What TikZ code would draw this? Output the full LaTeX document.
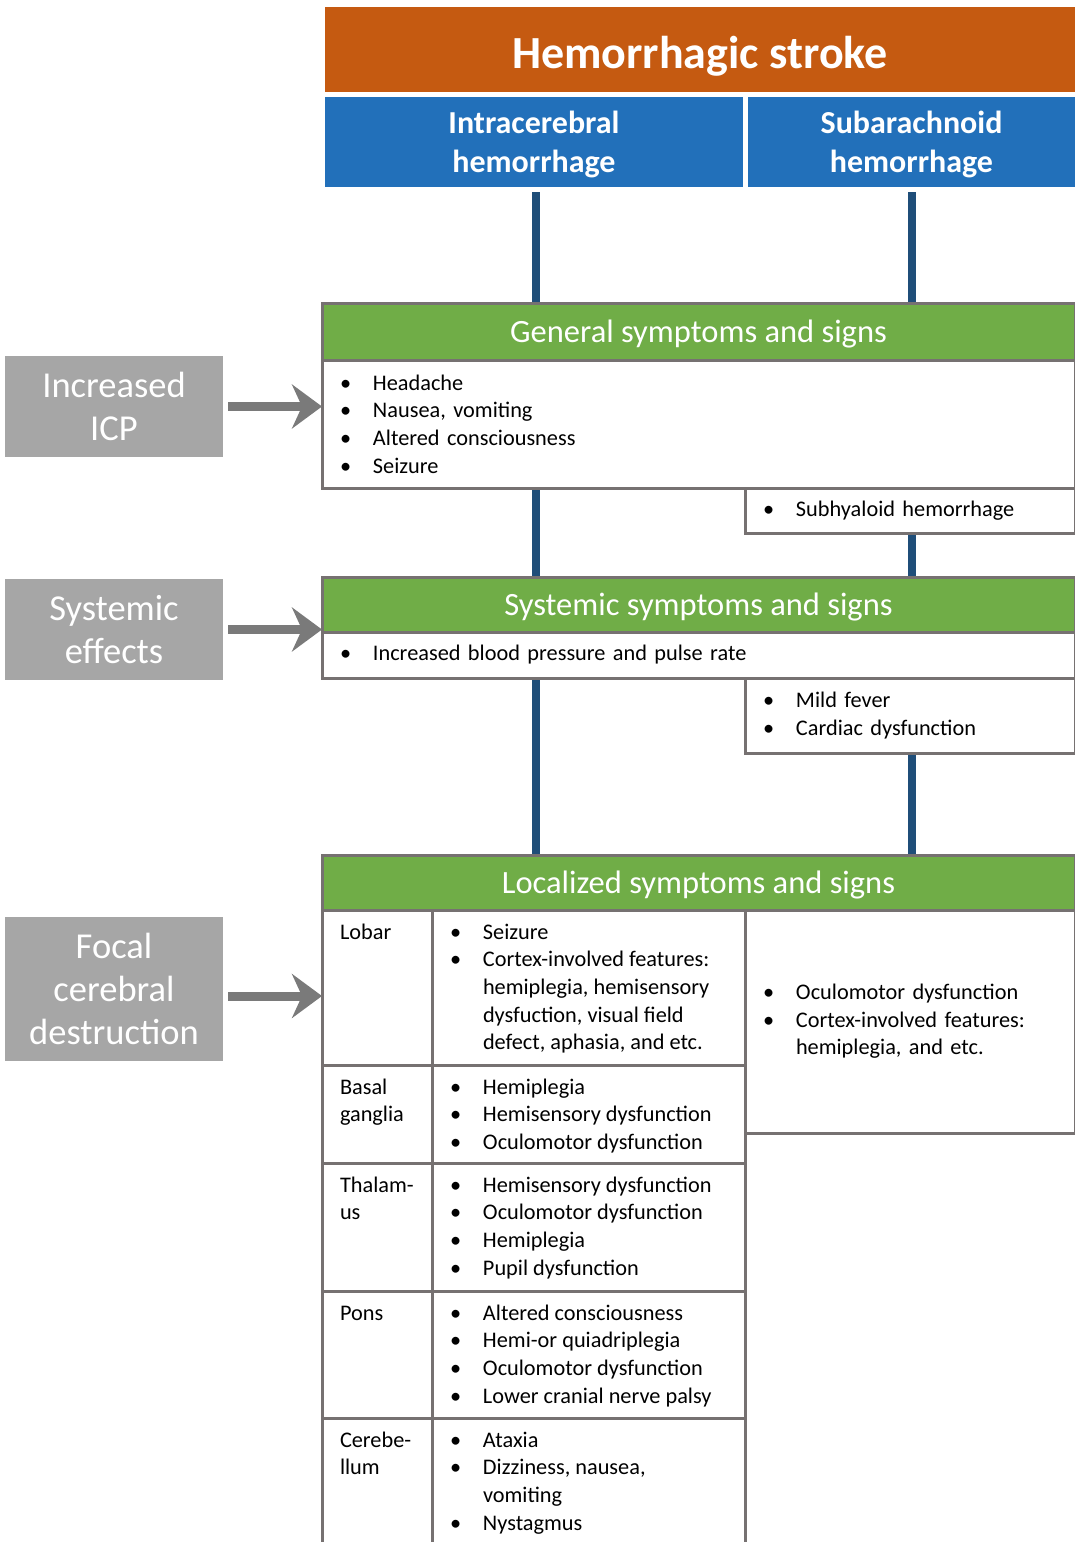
\documentclass[tikz,border=0pt]{standalone}
\usepackage{fontspec}
\setmainfont{Carlito}
\usetikzlibrary{positioning,backgrounds,arrows.meta}

\definecolor{strokeorange}{HTML}{C55A11}
\definecolor{typeblue}{HTML}{2270BA}
\definecolor{stemblue}{HTML}{1F4E79}
\definecolor{headgreen}{HTML}{70AD47}
\definecolor{sidegray}{HTML}{A6A6A6}
\definecolor{edgegray}{HTML}{767171}
\definecolor{arrowgray}{HTML}{7A7A7A}

\newcommand{\bodyfont}{\fontsize{22.3}{27.6}\selectfont}
\newcommand{\bi}[1]{\makebox[33pt][l]{\textbullet}#1}
\newcommand{\ci}{\hspace*{33pt}}

\tikzset{
	every node/.style={outer sep=0pt},
	orangebox/.style={fill=strokeorange, text=white, font=\bfseries\fontsize{46}{52}\selectfont, minimum height=85pt, inner sep=0pt, text height=38pt, text depth=0pt},
	bluebox/.style={fill=typeblue, text=white, align=center, font=\bfseries\fontsize{32}{39}\selectfont, minimum height=90pt, inner sep=0pt, text depth=0pt},
	greenbar/.style={draw=edgegray, line width=3pt, fill=headgreen, text=white, font=\fontsize{32.5}{38}\selectfont, minimum width=753pt, inner sep=0pt, text depth=0pt},
	listbox/.style={draw=edgegray, line width=3pt, fill=white, align=left, font=\bodyfont, inner xsep=18pt, inner ysep=0pt},
	cellbox/.style={draw=edgegray, line width=3pt, fill=white, inner sep=0pt},
	celltext/.style={align=left, font=\bodyfont, inner sep=0pt},
	sidebox/.style={fill=sidegray, text=white, align=center, font=\fontsize{36.5}{43}\selectfont, minimum width=218pt, inner sep=0pt},
	feeds/.style={draw=arrowgray, line width=9pt, -{Stealth[length=30pt,width=44pt,inset=10pt]}},
	stem/.style={draw=stemblue, line width=8pt}
}

\begin{document}
\frenchspacing
\begin{tikzpicture}[x=1pt,y=-1pt]
	\useasboundingbox (0,0) rectangle (1075,1542);

	% stroke types
	\node[orangebox, minimum width=750pt] (stroke) at (700,49.5) {Hemorrhagic stroke};
	\node[bluebox, minimum width=418pt] (ich) at (534,142) {Intracerebral\\hemorrhage};
	\node[bluebox, minimum width=327pt] (sah) at (911.5,142) {Subarachnoid\\hemorrhage};

	% general
	\node[greenbar, minimum height=57pt] (ghead) at (698.5,331.5) {General symptoms and signs};
	\node[listbox, below=0pt of ghead, text width=717pt, minimum height=128pt] (gbody)
		{\bi{Headache}\\\bi{Nausea, vomiting}\\\bi{Altered consciousness}\\\bi{Seizure}};
	\node[listbox, below left=0pt and 0pt of gbody.south east, text width=294pt, minimum height=45pt] (gsah)
		{\bi{Subhyaloid hemorrhage}};

	% systemic
	\node[greenbar, minimum height=55pt] (shead) at (698.5,604.5) {Systemic symptoms and signs};
	\node[listbox, below=0pt of shead, text width=717pt, minimum height=46pt] (sbody)
		{\bi{Increased blood pressure and pulse rate}};
	\node[listbox, below left=0pt and 0pt of sbody.south east, text width=294pt, minimum height=75pt] (ssah)
		{\bi{Mild fever}\\\bi{Cardiac dysfunction}};

	% localized
	\node[greenbar, minimum height=55pt] (lhead) at (698.5,882.5) {Localized symptoms and signs};
	\node[listbox, below left=0pt and 0pt of lhead.south east, text width=294pt, minimum height=223pt] (lsah)
		{\bi{Oculomotor dysfunction}\\\bi{Cortex-involved features:}\\\ci hemiplegia, and etc.};

	\node[cellbox, below right=0pt and 0pt of lhead.south west, minimum width=110pt, minimum height=155pt] (lobar) {};
	\node[cellbox, below=0pt of lobar, minimum width=110pt, minimum height=98pt] (basal) {};
	\node[cellbox, below=0pt of basal, minimum width=110pt, minimum height=128pt] (thal) {};
	\node[cellbox, below=0pt of thal, minimum width=110pt, minimum height=127pt] (pons) {};
	\node[cellbox, below=0pt of pons, minimum width=110pt, minimum height=145pt] (cereb) {};
	\node[cellbox, right=0pt of lobar, minimum width=313pt, minimum height=155pt] (lobarsx) {};
	\node[cellbox, right=0pt of basal, minimum width=313pt, minimum height=98pt] (basalsx) {};
	\node[cellbox, right=0pt of thal, minimum width=313pt, minimum height=128pt] (thalsx) {};
	\node[cellbox, right=0pt of pons, minimum width=313pt, minimum height=127pt] (ponssx) {};
	\node[cellbox, right=0pt of cereb, minimum width=313pt, minimum height=145pt] (cerebsx) {};

	\node[celltext, below right=10pt and 18pt of lobar.north west] (lobarname) {\strut Lobar};
	\node[celltext, below right=10pt and 18pt of basal.north west] (basalname) {\strut Basal\\ganglia};
	\node[celltext, below right=10pt and 18pt of thal.north west] (thalname) {\strut Thalam-\\us};
	\node[celltext, below right=10pt and 18pt of pons.north west] (ponsname) {\strut Pons};
	\node[celltext, below right=10pt and 18pt of cereb.north west] (cerebname) {\strut Cerebe-\\llum};

	\node[celltext, below right=10pt and 18pt of lobarsx.north west] (lobarlist)
		{\strut\bi{Seizure}\\\bi{Cortex-involved features:}\\\ci hemiplegia, hemisensory\\\ci dysfuction, visual field\\\ci defect, aphasia, and etc.};
	\node[celltext, below right=10pt and 18pt of basalsx.north west] (basallist)
		{\strut\bi{Hemiplegia}\\\bi{Hemisensory dysfunction}\\\bi{Oculomotor dysfunction}};
	\node[celltext, below right=10pt and 18pt of thalsx.north west] (thallist)
		{\strut\bi{Hemisensory dysfunction}\\\bi{Oculomotor dysfunction}\\\bi{Hemiplegia}\\\bi{Pupil dysfunction}};
	\node[celltext, below right=10pt and 18pt of ponssx.north west] (ponslist)
		{\strut\bi{Altered consciousness}\\\bi{Hemi-or quiadriplegia}\\\bi{Oculomotor dysfunction}\\\bi{Lower cranial nerve palsy}};
	\node[celltext, below right=10pt and 18pt of cerebsx.north west] (cereblist)
		{\strut\bi{Ataxia}\\\bi{Dizziness, nausea,}\\\ci vomiting\\\bi{Nystagmus}};

	% causes
	\node[sidebox, minimum height=101pt] (icp) at (114,406.5) {Increased\\ICP};
	\node[sidebox, minimum height=101pt] (sys) at (114,629.5) {Systemic\\effects};
	\node[sidebox, minimum height=144pt] (focal) at (114,989) {Focal\\cerebral\\destruction};

	\draw[feeds] ([xshift=5pt]icp.east) -- (icp.east -| gbody.west);
	\draw[feeds] ([xshift=5pt]sys.east) -- (sys.east -| sbody.west);
	\draw[feeds] ([xshift=5pt,yshift=-7pt]focal.east) -- ([yshift=-7pt]focal.east -| lobar.west);

	\begin{scope}[on background layer]
		\draw[stem] ([xshift=2pt,yshift=-5pt]ich.south) -- ([xshift=2pt]ich.south |- lhead.north);
		\draw[stem] ([yshift=-5pt]sah.south) -- (sah.south |- lhead.north);
	\end{scope}
\end{tikzpicture}
\end{document}
